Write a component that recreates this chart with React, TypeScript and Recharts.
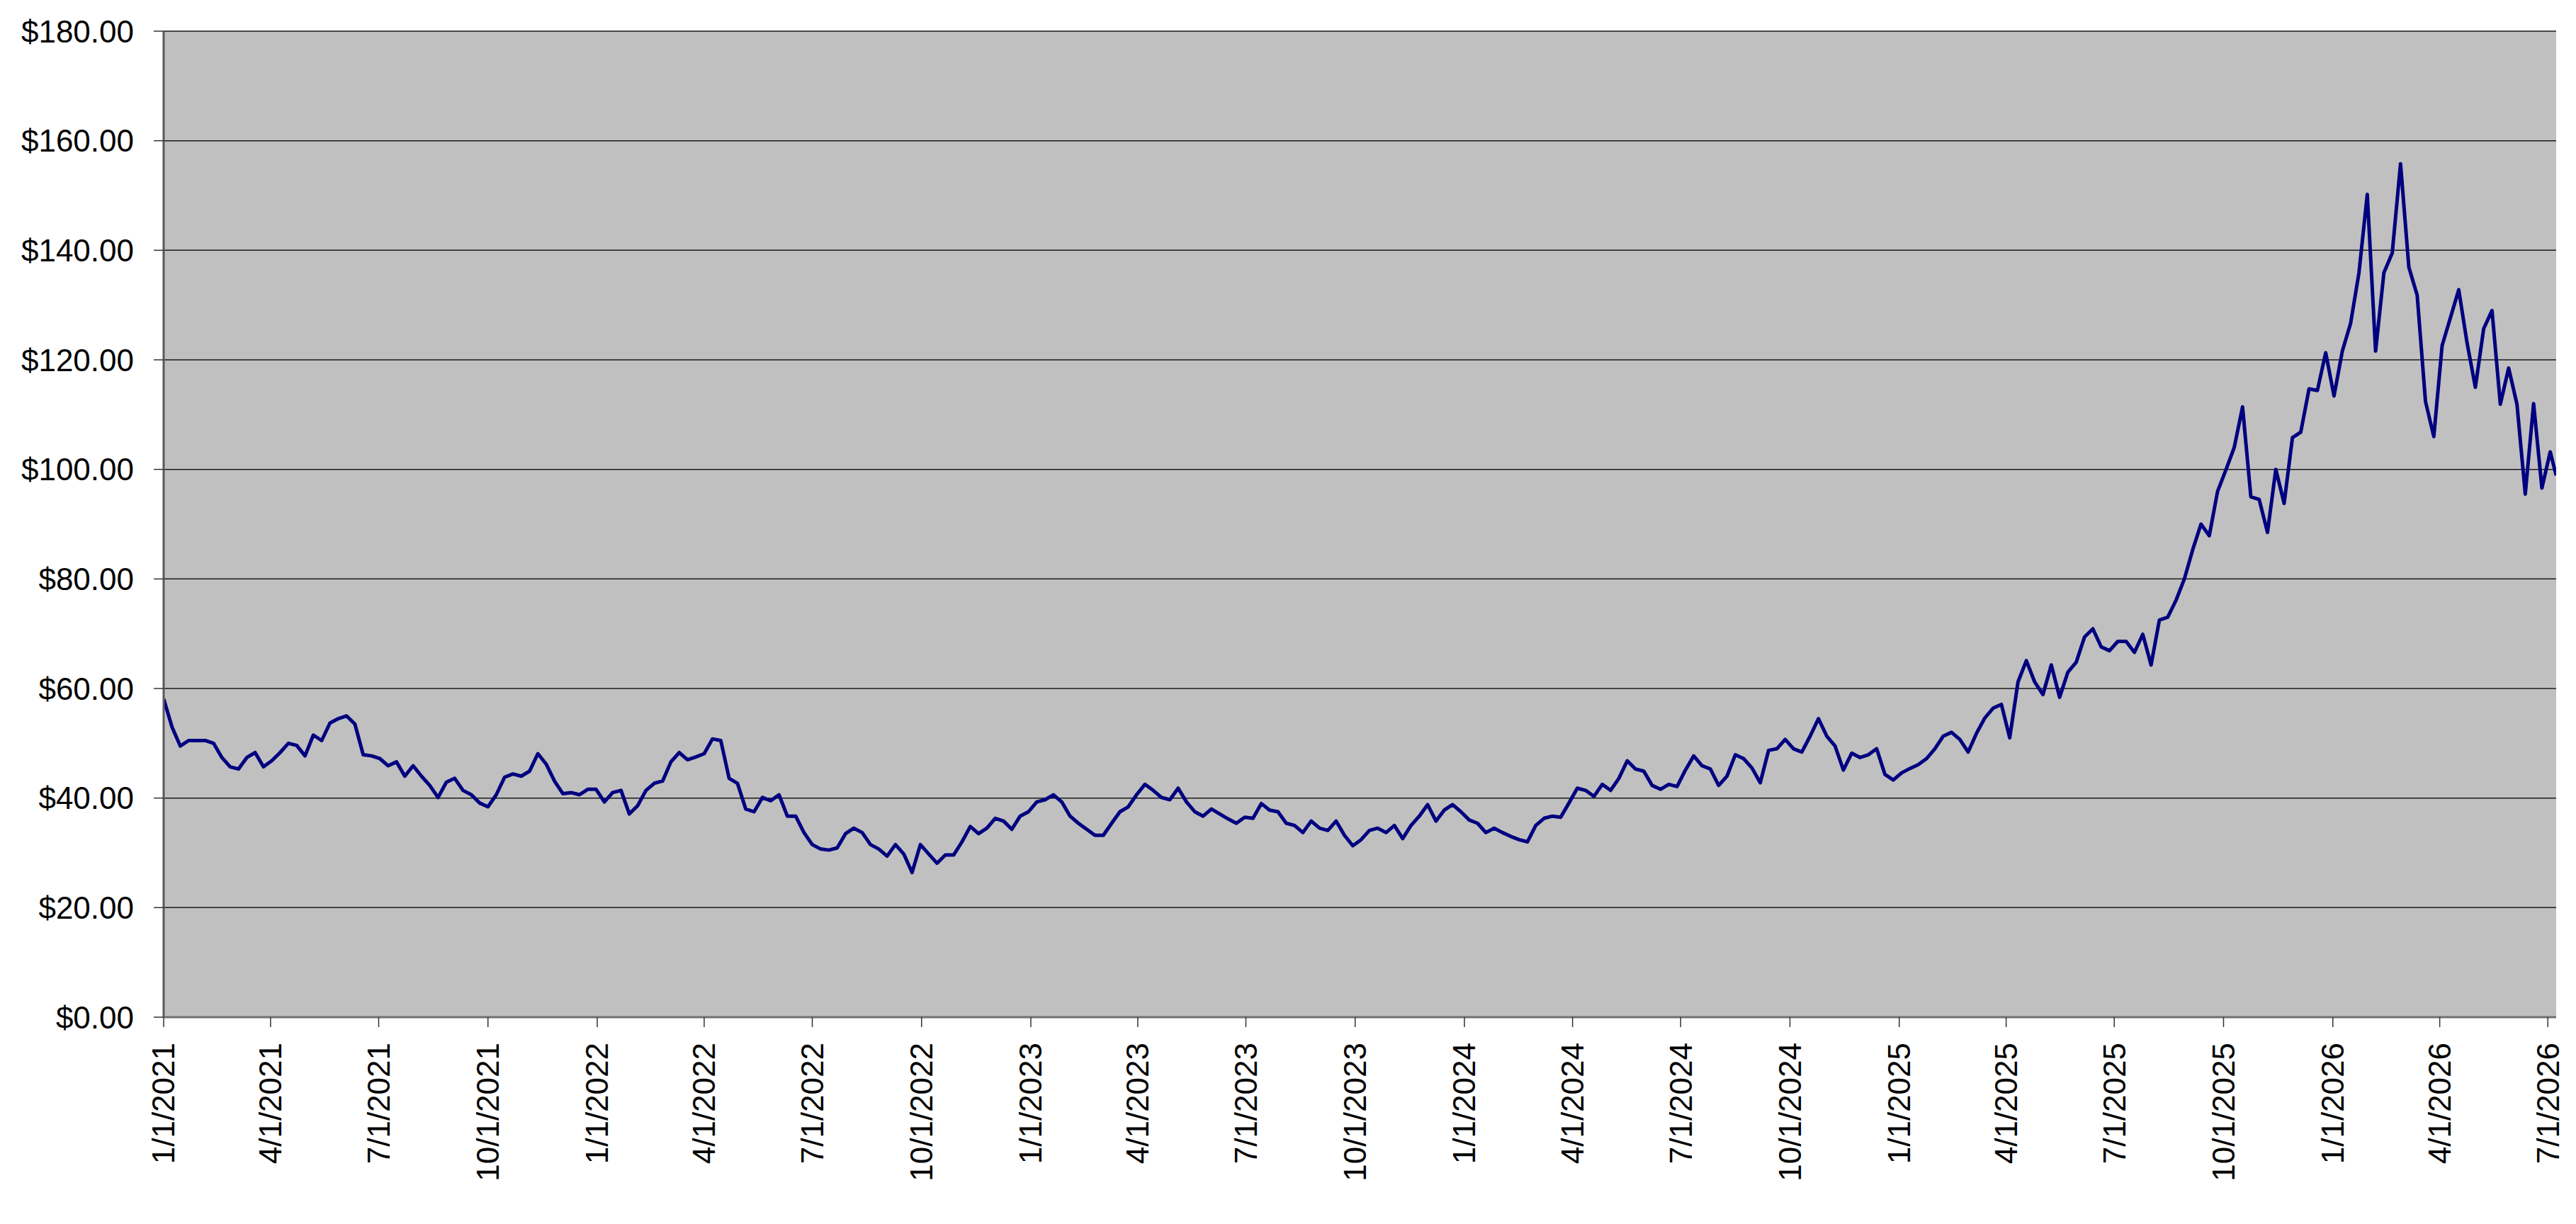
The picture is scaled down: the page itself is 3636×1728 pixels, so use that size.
import React from 'react';
import { LineChart, Line, XAxis, YAxis, CartesianGrid } from 'recharts';

// Weekly closing prices (first point 1/1/2021, one point every 7 days)
const START_DATE = '2021-01-01';
const STEP_DAYS = 7;

const prices2021 = [
  58.1, 53.0, 49.5, 50.5, 50.5, 50.5, 50.0, 47.4, 45.7, 45.3,
  47.4, 48.3, 45.7, 46.8, 48.3, 50.0, 49.6, 47.7, 51.5, 50.5,
  53.7, 54.5, 55.0, 53.5, 47.9, 47.7, 47.2, 45.9, 46.6, 44.0,
  45.9, 44.0, 42.3, 40.1, 42.9, 43.6, 41.4, 40.6, 39.1, 38.4,
  40.6, 43.8, 44.4, 44.0, 44.9, 48.1, 46.2, 43.1, 40.8, 41.0,
  40.6, 41.6, 41.6,
];

const prices2022 = [
  39.3, 41.0, 41.4, 37.1, 38.6, 41.4, 42.7, 43.1, 46.6, 48.3,
  47.0, 47.5, 48.1, 50.8, 50.5, 43.6, 42.7, 38.0, 37.5, 40.1,
  39.5, 40.6, 36.7, 36.7, 33.7, 31.5, 30.7, 30.5, 30.9, 33.5,
  34.5, 33.7, 31.5, 30.7, 29.4, 31.5, 29.8, 26.4, 31.5, 29.8,
  28.1, 29.6, 29.6, 32.0, 34.8, 33.5, 34.5, 36.3, 35.8, 34.3,
  36.7, 37.5,
];

const prices2023 = [
  39.3, 39.7, 40.6, 39.3, 36.7, 35.4, 34.3, 33.2, 33.2, 35.4,
  37.5, 38.4, 40.6, 42.5, 41.4, 40.1, 39.7, 41.8, 39.3, 37.5,
  36.7, 38.0, 37.1, 36.2, 35.4, 36.5, 36.3, 39.0, 37.8, 37.5,
  35.4, 35.0, 33.7, 35.8, 34.5, 34.1, 35.8, 33.2, 31.3, 32.4,
  34.1, 34.5, 33.7, 35.0, 32.6, 35.0, 36.7, 38.8, 35.8, 37.8,
  38.8, 37.5,
];

const prices2024 = [
  36.0, 35.4, 33.7, 34.5, 33.7, 33.0, 32.4, 32.0, 35.0, 36.3,
  36.7, 36.5, 39.1, 41.8, 41.4, 40.3, 42.5, 41.4, 43.6, 46.8,
  45.3, 44.9, 42.3, 41.6, 42.5, 42.1, 45.1, 47.7, 45.9, 45.3,
  42.3, 44.0, 47.9, 47.2, 45.5, 42.8, 48.7, 49.0, 50.7, 49.0,
  48.4, 51.3, 54.5, 51.3, 49.5, 45.1, 48.2, 47.4, 47.9, 49.0,
  44.3, 43.3,
];

const prices2025 = [
  44.6, 45.4, 46.1, 47.2, 49.0, 51.3, 52.0, 50.7, 48.4, 51.8,
  54.6, 56.4, 57.1, 51.0, 61.2, 65.1, 61.2, 58.9, 64.3, 58.4,
  63.0, 64.8, 69.4, 70.9, 67.6, 66.9, 68.6, 68.6, 66.6, 69.9,
  64.3, 72.5, 73.0, 76.1, 80.0, 85.3, 90.0, 87.9, 96.0, 99.9,
  104.0, 111.4, 95.0, 94.5, 88.5, 100.0, 93.8, 105.8, 106.8, 114.7,
  114.4, 121.3,
];

const prices2026 = [
  113.4, 121.6, 126.7, 135.9, 150.2, 121.6, 135.9, 139.5, 155.8, 136.9,
  131.8, 112.4, 106.0, 122.6, 127.7, 132.8, 123.1, 115.0, 125.7, 129.0,
  111.9, 118.5, 111.9, 95.5, 112.0, 96.6, 103.2,
];

const LAST_DATE = '2026-07-08';
const LAST_PRICE = 98.9;

const X_TICK_LABELS = [
  '1/1/2021', '4/1/2021', '7/1/2021', '10/1/2021',
  '1/1/2022', '4/1/2022', '7/1/2022', '10/1/2022',
  '1/1/2023', '4/1/2023', '7/1/2023', '10/1/2023',
  '1/1/2024', '4/1/2024', '7/1/2024', '10/1/2024',
  '1/1/2025', '4/1/2025', '7/1/2025', '10/1/2025',
  '1/1/2026', '4/1/2026', '7/1/2026',
];

const Y_TICKS = [0, 20, 40, 60, 80, 100, 120, 140, 160, 180];

const DAY_MS = 86400000;
const FONT = '"Liberation Sans", Arial, sans-serif';

const parseMDY = (s: string) => {
  const [m, d, y] = s.split('/').map(Number);
  return Date.UTC(y, m - 1, d);
};
const parseISO = (s: string) => Date.parse(s + 'T00:00:00Z');

const weeklyPrices = [
  ...prices2021, ...prices2022, ...prices2023,
  ...prices2024, ...prices2025, ...prices2026,
];
const startT = parseISO(START_DATE);
const data = weeklyPrices.map((p, i) => ({ t: startT + i * STEP_DAYS * DAY_MS, price: p }));
data.push({ t: parseISO(LAST_DATE), price: LAST_PRICE });

const xTicks = X_TICK_LABELS.map(parseMDY);
const labelByTick: Record<number, string> = {};
X_TICK_LABELS.forEach((l, i) => { labelByTick[xTicks[i]] = l; });

const XTick = (props: any) => {
  const { x, y, payload } = props;
  return (
    <text
      x={x}
      y={y}
      transform={`rotate(-90, ${x}, ${y})`}
      textAnchor="end"
      dy="0.35em"
      fontSize={44}
      fontFamily={FONT}
      fill="#000"
    >
      {labelByTick[payload.value]}
    </text>
  );
};

export default function App() {
  const domainX: [number, number] = [data[0].t, data[data.length - 1].t];
  return (
    <div style={{ width: 3620, height: 1712, background: '#fff' }}>
      <LineChart
        width={3620}
        height={1712}
        data={data}
        margin={{ top: 36, right: 20, left: 0, bottom: 0 }}
      >
        <CartesianGrid
          vertical={false}
          stroke="#1a1a1a"
          strokeWidth={1.5}
          fill="#C0C0C0"
          fillOpacity={1}
        />
        <XAxis
          dataKey="t"
          type="number"
          domain={domainX}
          ticks={xTicks}
          interval={0}
          height={284}
          tickSize={14}
          tickMargin={22}
          tick={<XTick />}
          tickLine={{ stroke: '#333', strokeWidth: 1.5 }}
          axisLine={{ stroke: '#707070', strokeWidth: 3 }}
          allowDataOverflow
        />
        <XAxis
          xAxisId="top"
          dataKey="t"
          type="number"
          domain={domainX}
          orientation="top"
          height={0}
          tick={false}
          tickLine={false}
          axisLine={{ stroke: '#808080', strokeWidth: 4 }}
        />
        <YAxis
          type="number"
          domain={[0, 180]}
          ticks={Y_TICKS}
          interval={0}
          width={223}
          tickSize={14}
          tickMargin={28}
          tickFormatter={(v: number) => `$${v.toFixed(2)}`}
          tick={{ fontSize: 44, fill: '#000', fontFamily: FONT }}
          tickLine={{ stroke: '#333', strokeWidth: 1.5 }}
          axisLine={{ stroke: '#5a5a5a', strokeWidth: 3 }}
        />
        <YAxis
          yAxisId="r"
          orientation="right"
          type="number"
          domain={[0, 180]}
          width={0}
          tick={false}
          tickLine={false}
          axisLine={{ stroke: '#808080', strokeWidth: 4 }}
        />
        <Line
          type="linear"
          dataKey="price"
          stroke="#000080"
          strokeWidth={5}
          strokeLinejoin="round"
          dot={false}
          activeDot={false}
          isAnimationActive={false}
        />
      </LineChart>
    </div>
  );
}
